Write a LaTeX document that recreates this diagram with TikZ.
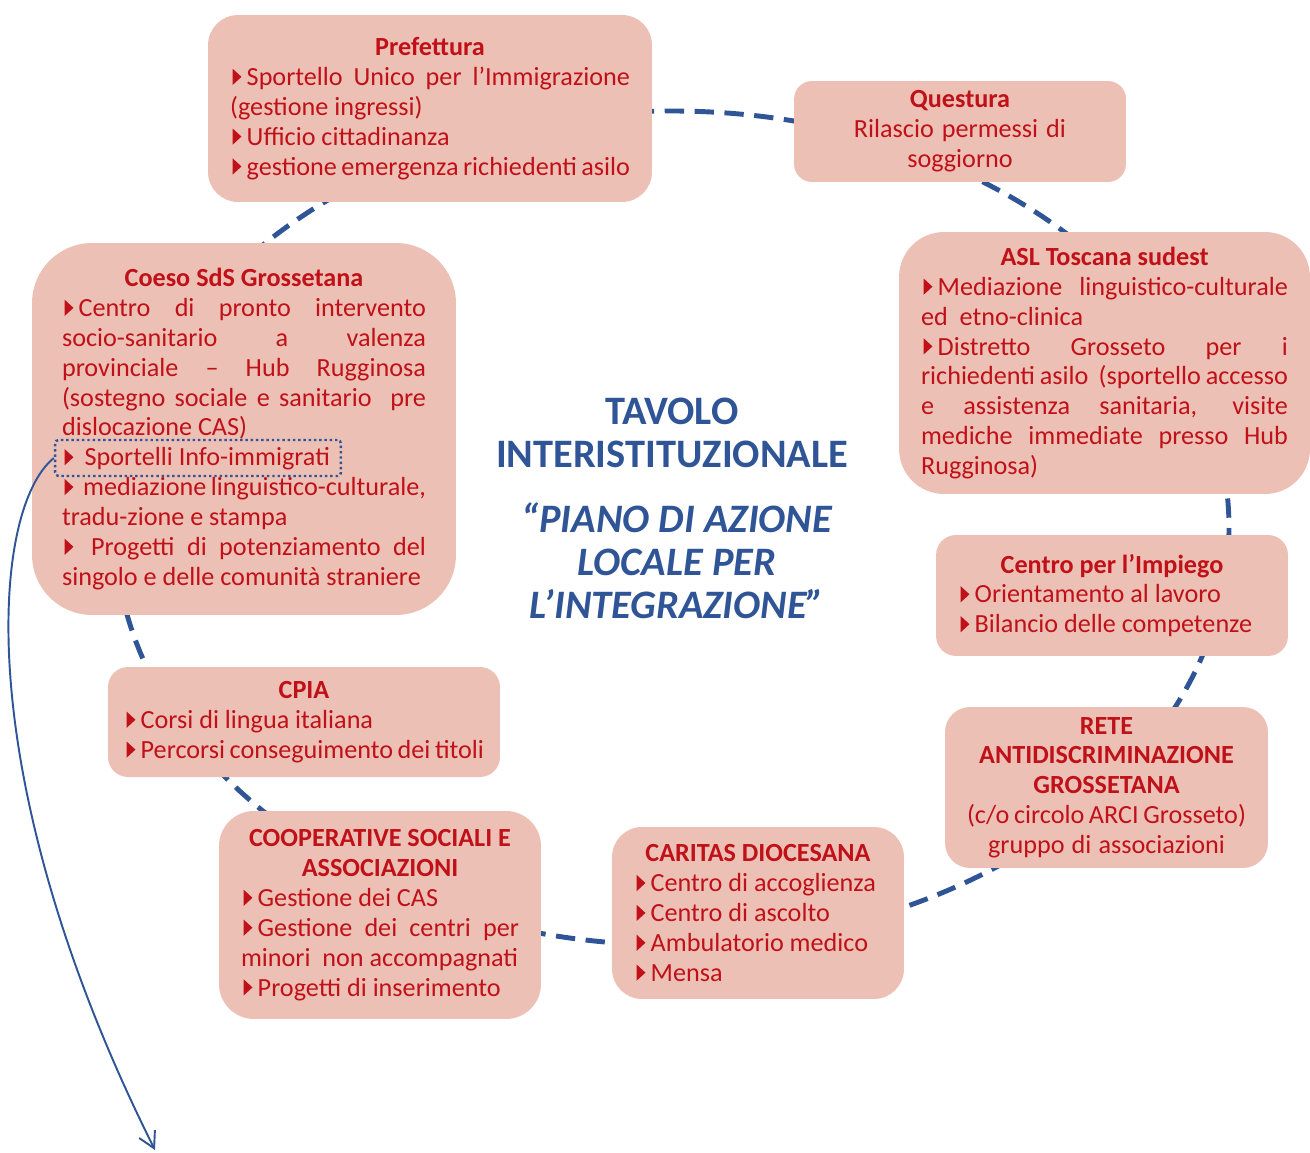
\documentclass[tikz,border=0pt]{standalone}
\usepackage{fontspec}
\setmainfont{Carlito}
\usetikzlibrary{arrows.meta}
\definecolor{boxpink}{RGB}{237,192,181}
\definecolor{itemred}{RGB}{192,16,24}
\definecolor{ringblue}{RGB}{47,85,151}
\newcommand\tri{\hspace{1.5pt}\tikz[baseline=0pt,sharp corners]\fill[itemred] (0pt,0.3pt) -- (0pt,9.5pt) -- (5pt,4.9pt) -- cycle;\hspace{3pt}}
\newcommand\hd[1]{\makebox[\hsize]{\bfseries #1}}
\newcommand\jl[1]{\makebox[\hsize][s]{#1}}
\begin{document}
\begin{tikzpicture}[x=0.02cm,y=-0.02cm,
    box/.style={fill=boxpink, text=itemred, rounded corners=0.6cm, align=left, inner xsep=0.44cm,
      font=\fontsize{14.9}{17}\selectfont\parindent0pt,
      execute at begin node={\spaceskip=0pt\xspaceskip=0pt\relax}},
    title/.style={text=ringblue, align=center, font=\fontsize{23}{24.4}\selectfont\bfseries},
    ring/.style={ringblue, line width=2.8pt, dash pattern=on 11pt off 6pt},
    infobox/.style={draw=ringblue, line width=1.4pt, dash pattern=on 1.4pt off 1.6pt, rounded corners=2pt,
      minimum width=5.72cm, minimum height=0.72cm, inner sep=0pt},
    link/.style={ringblue, line width=1.1pt, -{Straight Barb[length=9pt,width=10pt]}}]
  \useasboundingbox (0,0) rectangle (1310,1152);
  \draw[ring] (672,528) ellipse [x radius=557, y radius=417];

  \node[box, text width=8cm, minimum height=3.74cm] (pref) at (430,108.5)
    {\hd{Prefettura}\\
     \jl{\tri Sportello Unico per l'Immigrazione}\\
     (gestione ingressi)\\
     \tri Ufficio cittadinanza\\
     \tri gestione emergenza richiedenti asilo};
  \node[box, align=center, text width=5.76cm, minimum height=2.02cm, rounded corners=0.36cm] (quest) at (960,131.5)
    {{\bfseries Questura}\\ Rilascio permessi di\\ soggiorno};
  \node[box, text width=7.34cm, minimum height=5.24cm, rounded corners=0.9cm] (asl) at (1104.5,363)
    {\hd{ASL Toscana sudest}\\
     \jl{\tri Mediazione \ linguistico-culturale}\\
     ed \ etno-clinica\\
     \jl{\tri Distretto Grosseto per i}\\
     \jl{richiedenti asilo \ (sportello accesso}\\
     \jl{e assistenza sanitaria, visite}\\
     \jl{mediche immediate presso Hub}\\
     Rugginosa)};
  \node[box, text width=7.28cm, inner xsep=0.6cm, minimum height=7.44cm, rounded corners=1.2cm] (coeso) at (244,429)
    {\hd{Coeso SdS Grossetana}\\
     \jl{\tri Centro di pronto intervento}\\
     \jl{socio-sanitario a valenza}\\
     \jl{provinciale -- Hub Rugginosa}\\
     \jl{(sostegno sociale e sanitario \ pre}\\
     dislocazione CAS)\\
     \tri\ Sportelli Info-immigrati\\
     \jl{\tri\ mediazione linguistico-culturale,}\\
     tradu-zione e stampa\\
     \jl{\tri\ Progetti di potenziamento del}\\
     singolo e delle comunità straniere};
  \node[infobox] (info) at (198,458) {};
  \node[box, text width=6.16cm, minimum height=2.42cm, rounded corners=0.4cm] (impiego) at (1112,595.5)
    {\hd{Centro per l’Impiego}\\
     \tri Orientamento al lavoro\\
     \tri Bilancio delle competenze};
  \node[box, align=center, text width=5.58cm, minimum height=3.22cm, rounded corners=0.5cm] (rete) at (1106.5,787.5)
    {{\bfseries RETE}\\ {\bfseries ANTIDISCRIMINAZIONE}\\ {\bfseries GROSSETANA}\\
     (c/o circolo ARCI Grosseto)\\ gruppo di associazioni};
  \node[box, text width=7.2cm, inner xsep=0.32cm, minimum height=2.2cm, rounded corners=0.4cm] (cpia) at (304,722)
    {\hd{CPIA}\\
     \tri Corsi di lingua italiana\\
     \tri Percorsi conseguimento dei titoli};
  \node[box, text width=5.56cm, minimum height=4.16cm, rounded corners=0.7cm] (coop) at (380,915)
    {\hd{COOPERATIVE SOCIALI E}\\
     \hd{ASSOCIAZIONI}\\
     \tri Gestione dei CAS\\
     \jl{\tri Gestione dei centri per}\\
     minori \ non accompagnati\\
     \tri Progetti di inserimento};
  \node[box, text width=4.96cm, minimum height=3.44cm, rounded corners=0.6cm] (caritas) at (758,913)
    {\hd{CARITAS DIOCESANA}\\
     \tri Centro di accoglienza\\
     \tri Centro di ascolto\\
     \tri Ambulatorio medico\\
     \tri Mensa};

  \node[title] (tavolo) at (672,433) {TAVOLO\\INTERISTITUZIONALE};
  \node[title, font=\fontsize{23}{24.4}\selectfont\bfseries\itshape] (piano) at (677,561)
    {“PIANO DI AZIONE\\LOCALE PER\\L’INTEGRAZIONE”};

  \coordinate (tip) at (155,1150);
  \draw[link] (info.west) .. controls (-10,510) and (-30,780) .. (tip);
\end{tikzpicture}
\end{document}
